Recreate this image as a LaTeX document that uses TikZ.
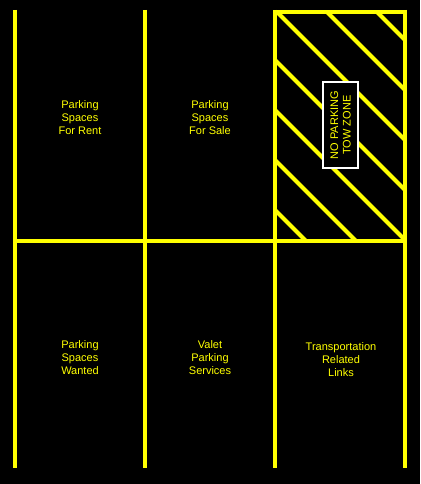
\documentclass[tikz,border=0pt]{standalone}
\usepackage{fontspec}
\setmainfont{Liberation Sans}
\definecolor{yel}{RGB}{255,255,0}
\begin{document}
\begin{tikzpicture}[x=1pt,y=-1pt,
  frame/.style={draw=yel, line width=4pt},
  hatch/.style={draw=yel, line width=4.2pt},
  celltext/.style={text=yel, align=center, font=\fontsize{11}{13}\selectfont},
  sign/.style={draw=white, line width=1.5pt, fill=black, text=yel, align=center,
    font=\fontsize{11}{12.5}\selectfont, rotate=90, minimum width=86pt, minimum height=35pt, inner sep=0pt}]
\fill[black] (0,0) rectangle (420,484);
\useasboundingbox (0,0) rectangle (420,484);
% hatching
\begin{scope}
  \clip (275,12) rectangle (405,240);
  \foreach \c in {-65,-115,-165,-215,-265,-315,-365}
    \draw[hatch] (200,{200+\c}) -- (500,{500+\c});
\end{scope}
% frame
\coordinate (v1t) at (15,10);  \coordinate (v1b) at (15,468);
\coordinate (v2t) at (145,10); \coordinate (v2b) at (145,468);
\coordinate (v3t) at (275,10); \coordinate (v3b) at (275,468);
\coordinate (v4t) at (405,10); \coordinate (v4b) at (405,468);
\coordinate (hl) at (15,240.5); \coordinate (hr) at (405,240.5);
\coordinate (tl) at (273,12); \coordinate (tr) at (407,12);
\draw[frame] (v1t) -- (v1b);
\draw[frame] (v2t) -- (v2b);
\draw[frame] (v3t) -- (v3b);
\draw[frame] (v4t) -- (v4b);
\draw[frame] (hl) -- (hr);
\draw[frame] (tl) -- (tr);
% sign
\node[sign] (nopark) at (340.5,125) {NO PARKING\\TOW ZONE};
% cell labels
\node[celltext] (rent) at (80,118) {Parking\\Spaces\\For Rent};
\node[celltext] (sale) at (210,118) {Parking\\Spaces\\For Sale};
\node[celltext] (wanted) at (80,358) {Parking\\Spaces\\Wanted};
\node[celltext] (valet) at (210,358) {Valet\\Parking\\Services};
\node[celltext] (links) at (341,360) {Transportation\\Related\\Links};
\end{tikzpicture}
\end{document}
